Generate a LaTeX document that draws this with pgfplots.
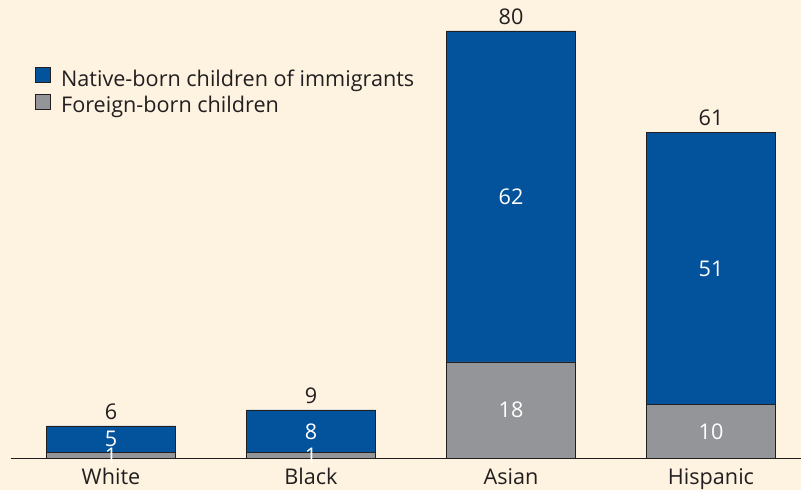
\documentclass[border=0pt]{standalone}
\usepackage{pgfplots}
\pgfplotsset{compat=1.18}
\usepackage{fontspec}
\setmainfont{Open Sans}

\definecolor{bgcol}{HTML}{FDF3E0}
\definecolor{nativeblue}{HTML}{02529C}
\definecolor{foreigngray}{HTML}{939598}
\definecolor{txt}{HTML}{231F20}

\newcommand{\lab}{\fontsize{21.7}{26}\selectfont}

\begin{document}
\begin{tikzpicture}
\fill[bgcol] (-11bp,-32bp) rectangle (790bp,458bp);
\begin{axis}[
    scale only axis,
    width=790bp, height=458bp,
    xmin=-0.5, xmax=3.45,
    ymin=0, ymax=85.8,
    hide y axis,
    axis x line*=bottom,
    x axis line style={txt, line width=0.8bp, -},
    xtick={0,1,2,3},
    xticklabels={White, Black, Asian, Hispanic},
    xtick style={draw=none},
    xticklabel style={font=\lab, text=txt, yshift=-7bp},
    clip=false,
    legend style={at={(rel axis cs:0.0304,0.854)}, anchor=north west, draw=none, fill=none,
        inner sep=0pt, font=\lab, text=txt, row sep=0bp,
        nodes={inner sep=2bp, text height=15bp, text depth=5bp}},
    legend cell align=left,
    legend image code/.code={\draw[#1, draw=txt, line width=0.9bp] (0bp,-1bp) rectangle (15bp,14bp);},
    /tikz/every odd column/.append style={column sep=8bp},
]
% total bar height (native-born on top of foreign-born)
\addplot[ybar, bar width=129bp, bar shift=0pt, fill=nativeblue, draw=txt, line width=0.8bp]
    coordinates {(0,6) (1,9) (2,80) (3,61)};
\addlegendentry{Native-born children of immigrants}
\addplot[ybar, bar width=129bp, bar shift=0pt, fill=foreigngray, draw=txt, line width=0.8bp]
    coordinates {(0,1) (1,1) (2,18) (3,10)};
\addlegendentry{Foreign-born children}

% totals above bars
\addplot[forget plot, only marks, mark=none, point meta=explicit symbolic,
    nodes near coords, every node near coord/.style={anchor=south, yshift=3bp, text=txt, font=\lab}]
    coordinates {(0,6) [6] (1,9) [9] (2,80) [80] (3,61) [61]};
% native-born segment values
\addplot[forget plot, only marks, mark=none, point meta=explicit symbolic,
    nodes near coords, every node near coord/.style={anchor=center, text=white, font=\lab}]
    coordinates {(0,3.5) [5] (1,5) [8] (2,49) [62] (3,35.5) [51]};
% foreign-born segment values
\addplot[forget plot, only marks, mark=none, point meta=explicit symbolic,
    nodes near coords, every node near coord/.style={anchor=center, text=white, font=\lab}]
    coordinates {(0,0.5) [1] (1,0.5) [1] (2,9) [18] (3,5) [10]};
\end{axis}
\pgfresetboundingbox
\path[use as bounding box] (-11bp,-32bp) rectangle (790bp,458bp);
\end{tikzpicture}
\end{document}
